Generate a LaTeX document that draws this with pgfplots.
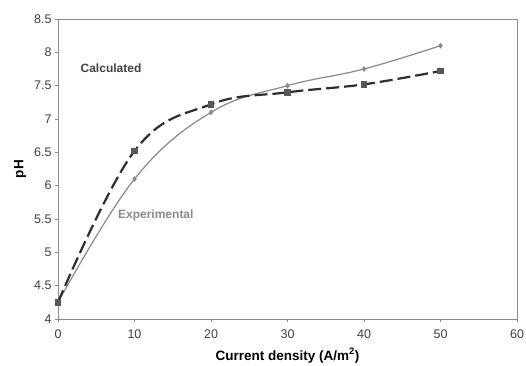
\documentclass[border=0pt]{standalone}
\usepackage{pgfplots}
\pgfplotsset{compat=1.18}
\usepackage{fontspec}
\setmainfont{Liberation Sans}
\definecolor{expc}{HTML}{8A8A8A}
\definecolor{calc}{HTML}{2E2E2E}
\definecolor{axc}{HTML}{8C8C8C}
\definecolor{tickc}{HTML}{404040}
\begin{document}
\begin{tikzpicture}[x=1pt,y=1pt]
\begin{axis}[
  at={(0,0)}, anchor=south west,
  scale only axis, width=459pt, height=300pt,
  xmin=0, xmax=60, ymin=4, ymax=8.5,
  xtick={0,10,...,60}, ytick={4,4.5,...,8.5},
  yticklabel style={/pgf/number format/fixed,/pgf/number format/precision=1},
  /pgf/number format/assume math mode=true,
  tick align=outside, tick pos=left, major tick length=3pt,
  tick style={axc, line width=0.6pt},
  axis line style={axc, line width=0.8pt},
  every tick label/.append style={font=\fontsize{12.5}{13}\selectfont, text=tickc},
  xticklabel style={yshift=-4pt},
  xlabel={\textbf{Current density (A/m\textsuperscript{2})}},
  ylabel={\textbf{pH}},
  label style={font=\fontsize{13.5}{14}\selectfont, text=black},
  xlabel style={yshift=-3pt},
  ylabel style={yshift=1pt},
  clip=false,
]
\addplot[expc, line width=1.2pt, smooth, tension=0.65, mark=diamond*, mark size=2pt, mark options={solid, fill=expc, draw=expc}]
  coordinates {(0,4.25) (10,6.1) (20,7.1) (30,7.5) (40,7.75) (50,8.1)};
\addplot[calc, line width=2.2pt, dash pattern=on 13pt off 5pt, smooth, tension=0.65, mark=square*, mark size=2.2pt, mark options={solid, fill=calc!80, draw=calc!80}]
  coordinates {(0,4.25) (10,6.52) (20,7.22) (30,7.4) (40,7.52) (50,7.72)};
\node[anchor=west, font=\fontsize{12}{13}\selectfont\bfseries, text=calc!90] at (axis cs:2.5,7.76) {Calculated};
\node[anchor=west, font=\fontsize{12}{13}\selectfont\bfseries, text=expc] at (axis cs:7.4,5.55) {Experimental};
\end{axis}
\pgfresetboundingbox
\path[use as bounding box] (-58,-46) rectangle (468,319);
\end{tikzpicture}
\end{document}
